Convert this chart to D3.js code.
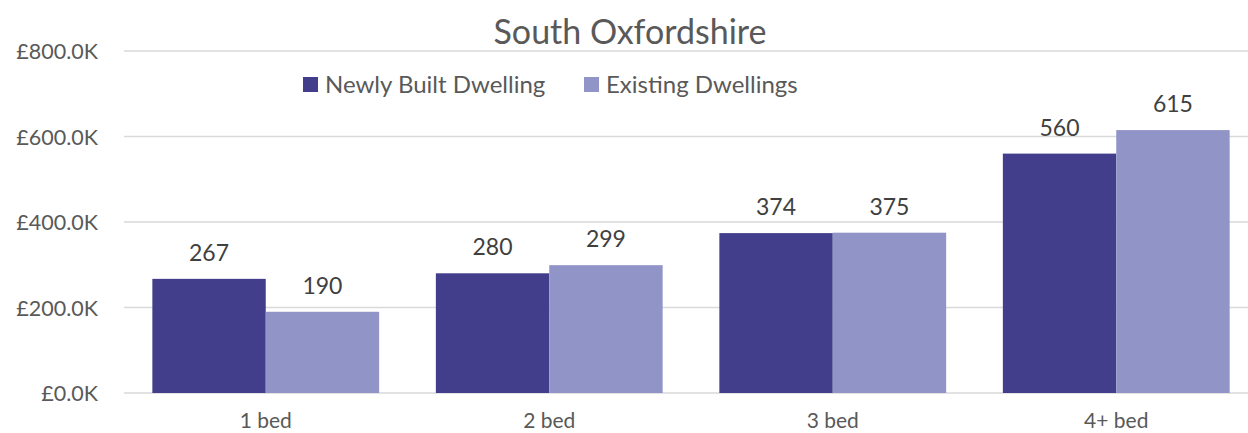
<!DOCTYPE html>
<html><head><meta charset="utf-8">
<script src="https://cdn.jsdelivr.net/npm/d3@7"></script>
<style>body{margin:0;background:#fff}svg{display:block}text{font-family:Lato,"Open Sans",sans-serif}</style>
</head><body><svg id="c" width="1248" height="433"></svg>
<script>
const categories = ["1 bed","2 bed","3 bed","4+ bed"];
const seriesNames = ["Newly Built Dwelling","Existing Dwellings"];
const newlyBuilt = [267,280,374,560];
const existing = [190,299,375,615];
const yTicks = [0,200,400,600,800];
const colors = ["#433E8B","#9094C7"];

const svg = d3.select("#c");
const x0 = d3.scaleBand().domain(categories).range([124,1258]);
const y = d3.scaleLinear().domain([0,800]).range([393,51]);

// gridlines
svg.append("g").selectAll("line").data(yTicks).join("line")
  .attr("x1",124).attr("x2",1258).attr("y1",d=>y(d)).attr("y2",d=>y(d))
  .attr("stroke","#d9d9d9").attr("stroke-width",1.5);

// y axis
const yAxis = d3.axisLeft(y).tickValues(yTicks).tickSize(0).tickPadding(0).tickFormat(d=>"£"+d.toFixed(1)+"K");
const gy = svg.append("g").attr("transform","translate(98,0)").call(yAxis);
gy.select(".domain").remove();
gy.selectAll("text").attr("fill","#595959").style("font-size","21.5px").style("font-family","Lato,sans-serif").attr("dy","0.35em");

// bars
const inner = d3.scaleBand().domain([0,1]).range([0,226.8]);
const data = categories.map((c,i)=>({c, v:[newlyBuilt[i],existing[i]]}));
const groups = svg.append("g").selectAll("g").data(data).join("g")
  .attr("transform",d=>`translate(${x0(d.c)+x0.bandwidth()/2-113.4},0)`);
groups.selectAll("rect").data(d=>d.v.map((v,k)=>({v,k}))).join("rect")
  .attr("x",d=>inner(d.k)).attr("width",inner.bandwidth())
  .attr("y",d=>y(d.v)).attr("height",d=>y(0)-y(d.v)).attr("fill",d=>colors[d.k]);
groups.selectAll("text").data(d=>d.v.map((v,k)=>({v,k}))).join("text")
  .attr("x",d=>inner(d.k)+inner.bandwidth()/2).attr("y",d=>y(d.v)-18)
  .attr("text-anchor","middle").attr("fill","#404040").style("font-size","23px").text(d=>d.v);

// x axis labels
const xAxis = d3.axisBottom(x0).tickSize(0).tickPadding(0);
const gx = svg.append("g").attr("transform","translate(0,421)").call(xAxis);
gx.select(".domain").remove();
gx.selectAll("text").attr("fill","#595959").style("font-size","21px").style("font-family","Lato,sans-serif").attr("dy","0.35em");

// title
svg.append("text").attr("x",630).attr("y",32).attr("dy","0.35em").attr("text-anchor","middle")
  .attr("fill","#595959").style("font-size","34px").text("South Oxfordshire");

// legend
const leg = svg.append("g");
const lx = [303,584];
seriesNames.forEach((n,i)=>{
  leg.append("rect").attr("x",lx[i]).attr("y",77).attr("width",15).attr("height",15).attr("fill",colors[i]);
  leg.append("text").attr("x",lx[i]+22).attr("y",84.5).attr("dy","0.35em").attr("fill","#595959").style("font-size","24px").text(n);
});
</script></body></html>
